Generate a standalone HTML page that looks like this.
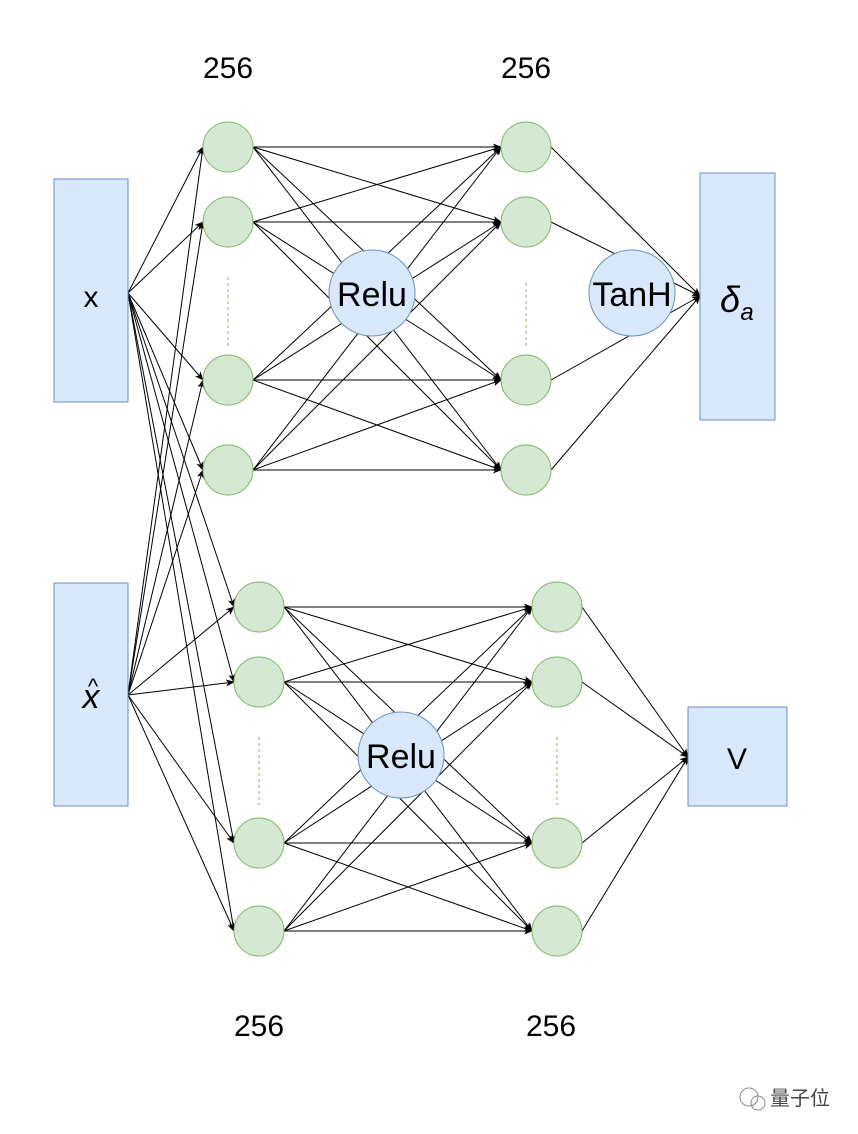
<!DOCTYPE html>
<html><head><meta charset="utf-8"><style>
html,body{margin:0;padding:0;background:#fff;}
svg{display:block}
text{font-family:"Liberation Sans",sans-serif;}
</style></head><body>
<svg id="s" width="858" height="1134" viewBox="0 0 858 1134" xmlns="http://www.w3.org/2000/svg">
<defs><marker id="a" viewBox="0 0 10 10" refX="9" refY="5" markerWidth="9" markerHeight="9" orient="auto" markerUnits="userSpaceOnUse"><path d="M0,1 L10,5 L0,9 L2.5,5 Z" fill="#000"/></marker></defs>
<g id="lines" stroke="#000" stroke-width="1" fill="none"></g>
<g id="shapes"></g>
</svg>
<script>
var NS="http://www.w3.org/2000/svg";
var L=document.getElementById('lines'),S=document.getElementById('shapes');
function el(p,t,a){var e=document.createElementNS(NS,t);for(var k in a)e.setAttribute(k,a[k]);p.appendChild(e);return e;}
function arrow(x1,y1,x2,y2){el(L,'line',{x1:x1,y1:y1,x2:x2,y2:y2,'marker-end':'url(#a)'});}
var R=25;
var t1=[147,222,380,470],b1=[607,682,843,931];
var T1x=228,T2x=526,B1x=259,B2x=557;
[[128,293],[128,695]].forEach(function(p){
 t1.forEach(function(y){arrow(p[0],p[1],T1x-R,y);});
 b1.forEach(function(y){arrow(p[0],p[1],B1x-R,y);});
});
t1.forEach(function(a){t1.forEach(function(b){arrow(T1x+R,a,T2x-R,b);});});
b1.forEach(function(a){b1.forEach(function(b){arrow(B1x+R,a,B2x-R,b);});});
t1.forEach(function(y){arrow(T2x+R,y,700,296);});
b1.forEach(function(y){arrow(B2x+R,y,688,757);});
function rect(x,y,w,h){el(S,'rect',{x:x,y:y,width:w,height:h,fill:'#dae8fc',stroke:'#6c8ebf','stroke-width':1});}
rect(54,179,74,223);rect(54,583,74,223);rect(700,173,75,247);rect(688,707,99,99);
function node(x,y){el(S,'circle',{cx:x,cy:y,r:R,fill:'#d5e8d4',stroke:'#82b366','stroke-width':1});}
t1.forEach(function(y){node(T1x,y);node(T2x,y);});
b1.forEach(function(y){node(B1x,y);node(B2x,y);});
function dash(x,y1,y2){el(S,'line',{x1:x,y1:y1,x2:x,y2:y2,stroke:'#82b366','stroke-dasharray':'3,3'});}
dash(T1x,277,347);dash(T2x,283,347);dash(B1x,737,805);dash(B2x,737,805);
function big(x,y){el(S,'circle',{cx:x,cy:y,r:43,fill:'#dae8fc',stroke:'#6c8ebf'});}
big(372,293);big(632,293);big(401,755);
function txt(x,y,s,sz,extra){var e=el(S,'text',Object.assign({x:x,y:y,'font-size':sz,'text-anchor':'middle',fill:'#000'},extra||{}));e.textContent=s;return e;}
txt(372,306,'Relu',34);txt(632,306,'TanH',34);txt(401,768,'Relu',34);
txt(91,307,'x',30);txt(737,769,'V',30);
txt(91,708,'x',34,{'font-family':'Liberation Serif, serif','font-style':'italic'});
txt(93,694,'^',22,{'font-family':'Liberation Serif, serif'});
txt(730,312,'δ',36,{'font-family':'Liberation Serif, serif','font-style':'italic'});
txt(747,320,'a',24,{'font-family':'Liberation Serif, serif','font-style':'italic'});
txt(228,78,'256',30);txt(526,78,'256',30);txt(259,1036,'256',30);txt(551,1036,'256',30);
txt(800,1105,'量子位',20,{'font-family':'Liberation Sans, Noto Sans CJK SC, sans-serif',fill:'#444'});
el(S,'circle',{cx:749,cy:1097,r:9,fill:'none',stroke:'#888'});
el(S,'circle',{cx:758,cy:1103,r:7,fill:'none',stroke:'#888'});
</script>
</body></html>
